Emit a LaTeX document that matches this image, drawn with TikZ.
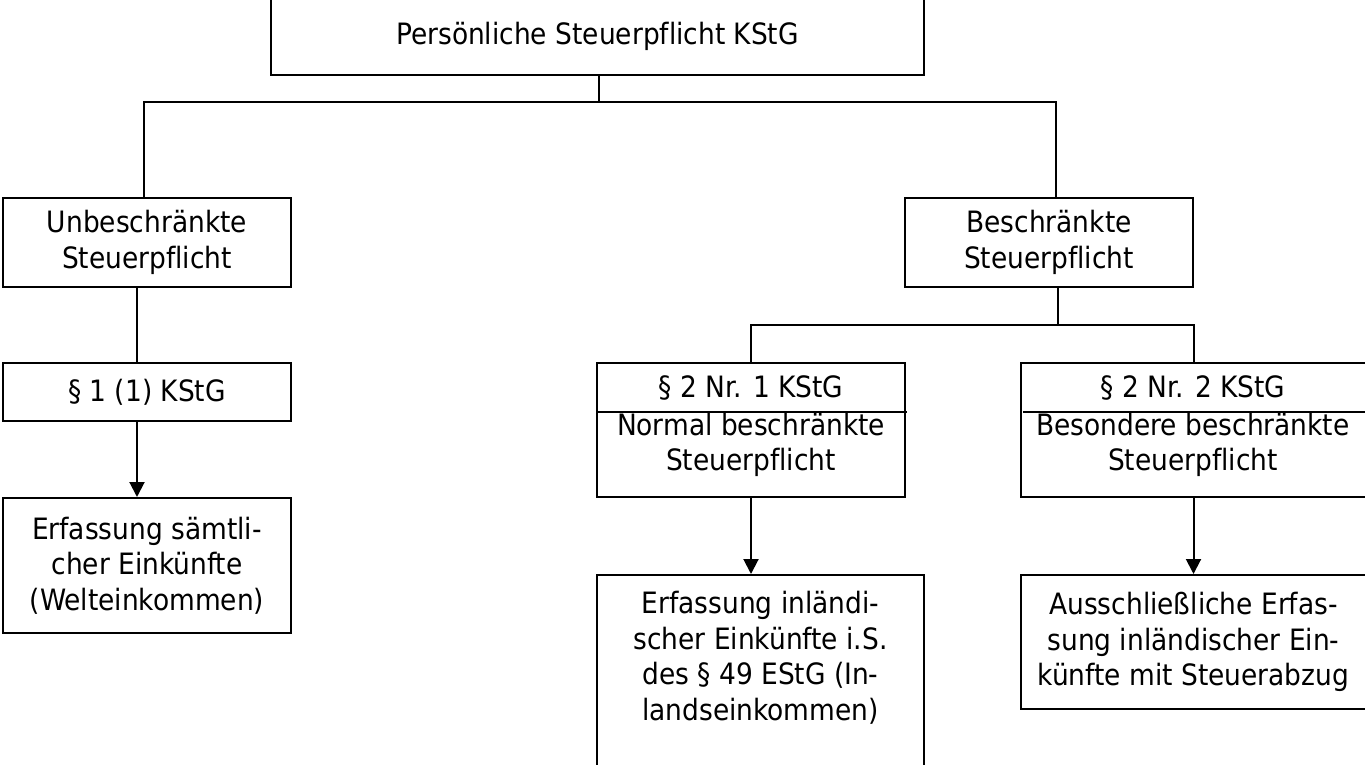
\documentclass[tikz,border=0pt]{standalone}
\usepackage{fontspec}
\setmainfont[Ligatures=CommonOff]{DejaVu Sans Condensed}
\usetikzlibrary{arrows.meta}
\begin{document}
\begin{tikzpicture}[x=0.5pt,y=-0.5pt,
  txt/.style={inner sep=0pt, align=center, font=\fontsize{14.7}{17.8}\selectfont},
  box/.style={txt, draw, line width=1pt},
  conn/.style={line width=1pt},
  arr/.style={line width=1pt, -{Triangle[length=7.5pt,width=7.5pt]}}]
\useasboundingbox (0,0) rectangle (1365,765);
\clip (0,0) rectangle (1365,765);
% boxes
\node[box, minimum width=326.5pt, minimum height=38.5pt] (top) at (597.5,36.5) {Persönliche Steuerpflicht KStG};
\node[box, minimum width=144pt, minimum height=44.5pt] (unb) at (147,242.5) {Unbeschränkte\\Steuerpflicht};
\node[box, minimum width=144pt, minimum height=44.5pt] (besch) at (1049,242.5) {Beschränkte\\Steuerpflicht};
\node[box, minimum width=144pt, minimum height=29pt] (p11) at (147,392) {§ 1 (1) KStG};
\node[box, minimum width=144pt, minimum height=67.5pt] (erfs) at (147,565.5) {Erfassung sämtli-\\cher Einkünfte\\(Welteinkommen)};
\node[box, minimum width=154pt, minimum height=67pt] (normal) at (751,430) {};
\node[txt] (normalhead) at (751,388) {§ 2 Nr. 1 KStG};
\node[txt] (normalbody) at (751,445) {Normal beschränkte\\Steuerpflicht};
\node[box, minimum width=172.5pt, minimum height=67pt] (besond) at (1193.5,430) {};
\node[txt] (besondhead) at (1193,388) {§ 2 Nr. 2 KStG};
\node[txt] (besondbody) at (1193,445) {Besondere beschränkte\\Steuerpflicht};
\node[box, minimum width=163.5pt, minimum height=97.5pt] (erfi) at (760.5,672.5) {};
\node[txt, anchor=north] (erfitext) at (760.5,591) {Erfassung inländi-\\scher Einkünfte i.S.\\des § 49 EStG (In-\\landseinkommen)};
\node[box, minimum width=172.5pt, minimum height=67pt] (aus) at (1193.5,642) {Ausschließliche Erfas-\\sung inländischer Ein-\\künfte mit Steuerabzug};
% dividers
\coordinate (nd1) at (597,412);
\coordinate (nd2) at (907,412);
\coordinate (bd1) at (1023,412);
\coordinate (bd2) at (1366,412);
\draw[conn] (nd1) -- (nd2);
\draw[conn] (bd1) -- (bd2);
% connectors
\coordinate (j1) at (599,102);
\coordinate (j2) at (1058,325);
\draw[conn] (top.south -| j1) -- (j1);
\draw[conn] ([xshift=-1.5pt]unb.north) |- (j1) -| ([xshift=3.5pt]besch.north);
\draw[conn] ([xshift=-5pt]unb.south) -- ([xshift=-5pt]p11.north);
\draw[arr] ([xshift=-5pt]p11.south) -- ([xshift=-5pt]erfs.north);
\draw[conn] ([xshift=4.5pt]besch.south) -- (j2);
\draw[conn] (normal.north) |- (j2) -| (besond.north);
\draw[arr] (normal.south) -- (normal.south |- erfi.north);
\draw[arr] (besond.south) -- (aus.north);
\end{tikzpicture}
\end{document}
